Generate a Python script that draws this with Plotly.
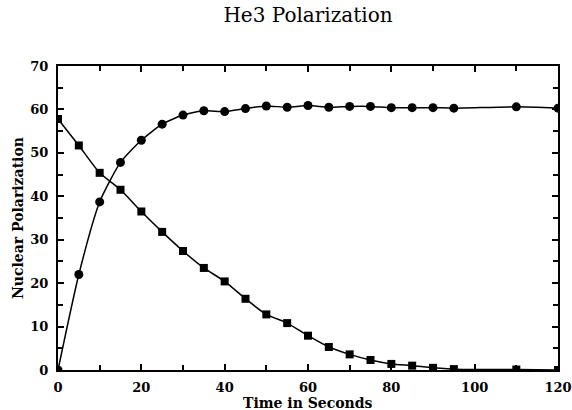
import plotly.graph_objects as go

time_s = [0, 5, 10, 15, 20, 25, 30, 35, 40, 45, 50, 55, 60, 65, 70, 75, 80, 85, 90, 95, 110, 120]
rise = [0, 22, 38.7, 47.8, 52.9, 56.6, 58.7, 59.7, 59.5, 60.2, 60.8, 60.5, 60.9, 60.5, 60.7, 60.7,
        60.4, 60.4, 60.4, 60.3, 60.6, 60.3]
decay = [57.8, 51.7, 45.4, 41.5, 36.5, 31.8, 27.4, 23.5, 20.4, 16.4, 12.8, 10.8, 7.9, 5.3, 3.6, 2.3,
         1.4, 1.0, 0.5, 0.2, 0.1, 0.0]
x_ticks = [0, 20, 40, 60, 80, 100, 120]
y_ticks = [0, 10, 20, 30, 40, 50, 60, 70]

W, H = 572, 410
L, T, R, B = 58, 66, 14, 40
PW, PH = W - L - R, H - T - B

fig = go.Figure()
fig.add_trace(go.Scatter(x=time_s, y=rise, mode="lines+markers",
                         line=dict(color="black", width=1.5, shape="spline", smoothing=0.6),
                         marker=dict(symbol="circle", size=9, color="black")))
fig.add_trace(go.Scatter(x=time_s, y=decay, mode="lines+markers",
                         line=dict(color="black", width=1.5, shape="spline", smoothing=0.6),
                         marker=dict(symbol="square", size=8, color="black")))

tickfont = dict(family="DejaVu Serif", size=13, color="black", weight="bold")
titlefont = dict(family="DejaVu Serif", size=14, color="black", weight="bold")
fig.update_layout(
    width=W, height=H,
    margin=dict(l=L, r=R, t=T, b=B, autoexpand=False),
    paper_bgcolor="white", plot_bgcolor="white",
    showlegend=False,
    title=dict(text="He3 Polarization", x=308 / W, xanchor="center",
               y=1 - 15 / H, yanchor="middle",
               font=dict(family="DejaVu Serif", size=20, color="black")),
    annotations=[
        dict(text="Time in Seconds", xref="paper", yref="paper", x=0.5, y=-(402.5 - 370) / PH,
             xanchor="center", yanchor="middle", showarrow=False, font=titlefont),
        dict(text="Nuclear Polarization", xref="paper", yref="paper", x=(18 - 58) / PW, y=0.5,
             xanchor="center", yanchor="middle", textangle=-90, showarrow=False, font=titlefont),
    ],
)
fig.update_xaxes(range=[0, 120], tickvals=x_ticks, automargin=False,
                 ticks="inside", ticklen=6, tickwidth=1.5, tickcolor="black", ticklabelstandoff=4,
                 minor=dict(tickvals=[10, 30, 50, 70, 90, 110], ticks="inside", ticklen=5, tickcolor="black"),
                 showline=True, linecolor="black", linewidth=2, mirror="allticks",
                 showgrid=False, zeroline=False, tickfont=tickfont)
fig.update_yaxes(range=[0, 70], tickvals=y_ticks, automargin=False,
                 ticks="inside", ticklen=6, tickwidth=1.5, tickcolor="black", ticklabelstandoff=5,
                 minor=dict(tickvals=[5, 15, 25, 35, 45, 55, 65], ticks="inside", ticklen=5, tickcolor="black"),
                 showline=True, linecolor="black", linewidth=2, mirror="allticks",
                 showgrid=False, zeroline=False, tickfont=tickfont)

fig.write_html("out.html", config={"displayModeBar": False},
               post_script="document.body.style.margin='0';")
